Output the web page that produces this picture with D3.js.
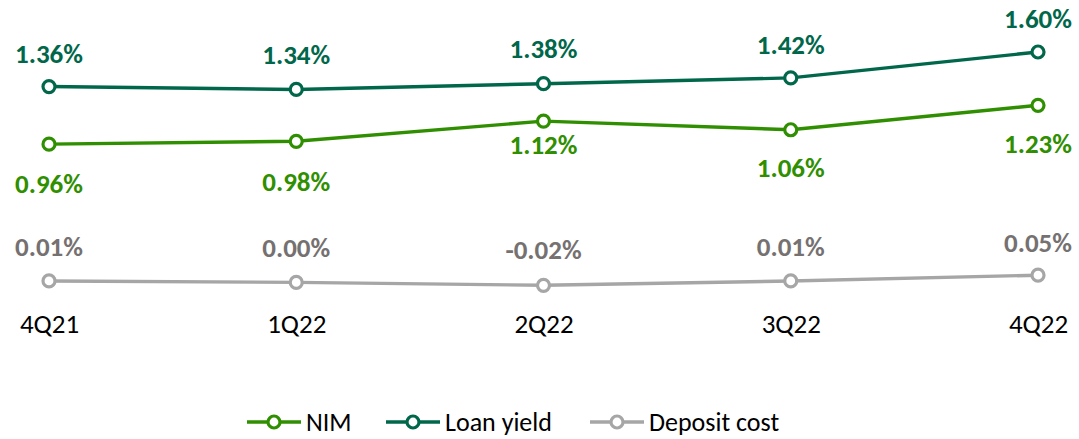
<!DOCTYPE html>
<html>
<head>
<meta charset="utf-8">
<script src="https://cdn.jsdelivr.net/npm/d3@7"></script>
<style>
  body { margin: 0; background: #fff; }
  svg text { font-family: Carlito, Calibri, Lato, sans-serif; }
</style>
</head>
<body>
<div id="chart"></div>
<script>
var categories = ["4Q21", "1Q22", "2Q22", "3Q22", "4Q22"];
var nim = [0.96, 0.98, 1.12, 1.06, 1.23];
var loanYield = [1.36, 1.34, 1.38, 1.42, 1.60];
var depositCost = [0.01, 0.00, -0.02, 0.01, 0.05];

var w = 1079, h = 439;

var series = [
  { name: "NIM", values: nim, line: "#2f8f00", text: "#2f8f00", labelDy: [39, 40, 23, 38, 38] },
  { name: "Loan yield", values: loanYield, line: "#00674a", text: "#00674a", labelDy: [-33, -35, -35, -34, -34] },
  { name: "Deposit cost", values: depositCost, line: "#a6a6a6", text: "#767171", labelDy: [-35, -35, -36, -35, -33] }
];

var svg = d3.select("#chart").append("svg")
    .attr("width", w)
    .attr("height", h);

var x = d3.scalePoint().domain(categories).range([49, 1038]);
var y = d3.scaleLinear().domain([0, 1.6]).range([282.4, 52]);

var line = d3.line()
    .x(function(d, i) { return x(categories[i]); })
    .y(function(d) { return y(d); });

// category labels
var xAxis = d3.axisBottom(x).tickSize(0).tickPadding(0);
var gx = svg.append("g")
    .attr("transform", "translate(0,323)")
    .call(xAxis);
gx.select(".domain").remove();
gx.selectAll("text")
    .attr("dy", "0.36em")
    .style("font-size", "27px")
    .style("fill", "#000");

series.forEach(function(s) {
  var g = svg.append("g");
  g.append("path")
      .datum(s.values)
      .attr("fill", "none")
      .attr("stroke", s.line)
      .attr("stroke-width", 3.4)
      .attr("d", line);
  g.selectAll("circle")
      .data(s.values)
      .enter().append("circle")
      .attr("cx", function(d, i) { return x(categories[i]); })
      .attr("cy", function(d) { return y(d); })
      .attr("r", 6)
      .attr("fill", "#fff")
      .attr("stroke", s.line)
      .attr("stroke-width", 3.2);
  g.selectAll("text")
      .data(s.values)
      .enter().append("text")
      .attr("x", function(d, i) { return x(categories[i]); })
      .attr("y", function(d, i) { return y(d) + s.labelDy[i]; })
      .attr("dy", "0.36em")
      .attr("text-anchor", "middle")
      .style("font-size", "27px")
      .style("font-weight", "bold")
      .style("fill", s.text)
      .text(function(d) { return d.toFixed(2) + "%"; });
});

// legend
var legendX = [247, 386, 590];
var legend = svg.append("g").attr("transform", "translate(0,422)");
series.forEach(function(s, i) {
  var lg = legend.append("g").attr("transform", "translate(" + legendX[i] + ",0)");
  lg.append("line")
      .attr("x1", 0).attr("x2", 54)
      .attr("stroke", s.line)
      .attr("stroke-width", 3.4);
  lg.append("circle")
      .attr("cx", 27).attr("r", 6)
      .attr("fill", "#fff")
      .attr("stroke", s.line)
      .attr("stroke-width", 3.2);
  lg.append("text")
      .attr("x", 59)
      .attr("dy", "0.36em")
      .style("font-size", "26px")
      .style("fill", "#000")
      .text(s.name);
});
</script>
</body>
</html>
